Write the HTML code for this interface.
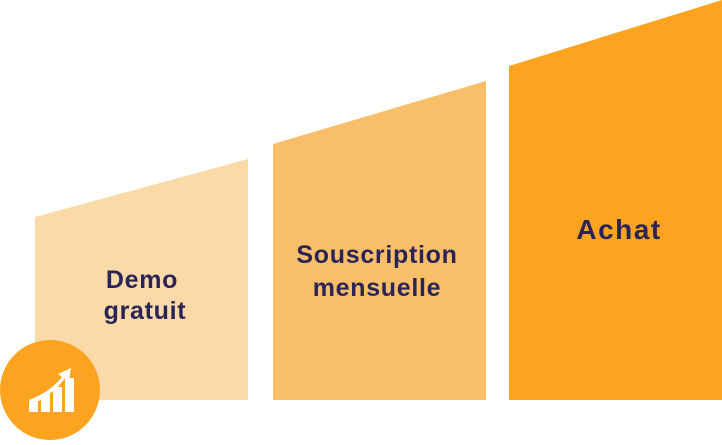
<!DOCTYPE html>
<html><head><style>
body{margin:0;width:722px;height:440px;overflow:hidden;background:#fff}
svg text{font-family:"Liberation Sans",sans-serif;font-weight:bold;fill:#2b2557;font-size:25px;letter-spacing:0.7px;text-anchor:middle}
</style></head><body>
<svg width="722" height="440" viewBox="0 0 722 440">
<polygon points="35,217 248,159 248,400 35,400" fill="#fadaa9"/>
<polygon points="273,144 486,81 486,400 273,400" fill="#f9be68"/>
<polygon points="509,66 722,0 722,400 509,400" fill="#fca41f"/>
<text x="142" y="288">Demo</text>
<text x="145" y="319">gratuit</text>
<text x="377" y="263">Souscription</text>
<text x="377" y="296">mensuelle</text>
<text x="619" y="239" style="font-size:28px;letter-spacing:1.5px">Achat</text>
<circle cx="50" cy="390" r="50" fill="#fca41f"/>
<g fill="#fff">
<rect x="29" y="402" width="9" height="10"/>
<rect x="41" y="394" width="9" height="18"/>
<rect x="53" y="387" width="9" height="25"/>
<rect x="65" y="378" width="9" height="34"/>
<path d="M29,400 Q50,392 62,377 L58,374 L71,368 L69,381 L65,378 Q54,394 31,405 Z"/>
</g>
</svg>
</body></html>
